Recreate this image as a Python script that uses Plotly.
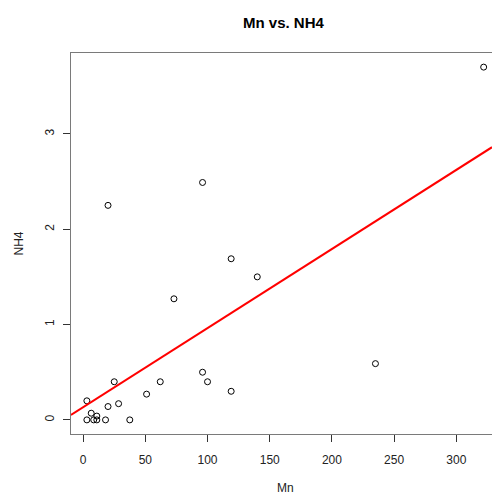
import numpy as np
import plotly.graph_objects as go

# Manganese vs ammonium observations
mn = [322, 235, 20, 96, 119, 140, 73, 96, 100, 62, 119, 51, 25,
      3, 6.5, 11, 20, 28.5, 3, 8.5, 11, 18, 37.5]
nh4 = [3.7, 0.59, 2.25, 2.49, 1.69, 1.50, 1.27, 0.50, 0.40, 0.40, 0.30, 0.27, 0.40,
       0.20, 0.07, 0.04, 0.14, 0.17, 0.0, 0.0, 0.0, 0.0, 0.0]
x_ticks = [0, 50, 100, 150, 200, 250, 300]
y_ticks = [0, 1, 2, 3]

# least-squares fit NH4 ~ Mn
slope, intercept = np.polyfit(mn, nh4, 1)

x_lo, x_hi = -9.76, 328.7
y_lo, y_hi = -0.148, 3.848
fit_x = [x_lo, x_hi]
fit_y = [intercept + slope * v for v in fit_x]

font_family = "Liberation Sans, Arial, sans-serif"

fig = go.Figure()
fig.add_trace(go.Scatter(
    x=mn, y=nh4, mode="markers",
    marker=dict(symbol="circle-open", size=6, color="#000000",
                line=dict(width=1, color="#000000")),
    showlegend=False, hoverinfo="x+y",
))
fig.add_trace(go.Scatter(
    x=fit_x, y=fit_y, mode="lines",
    line=dict(color="#ff0000", width=2),
    showlegend=False, hoverinfo="skip",
))

axis_common = dict(
    showgrid=False, zeroline=False, showline=True, linecolor="#7a7a7a",
    linewidth=1, ticks="outside", ticklen=7, tickwidth=1, tickcolor="#333333",
    tickfont=dict(family=font_family, size=12, color="#222222"),
)

# plot area size in pixels, used to place text annotations
left, right, top, bottom = 71, 0, 53, 60
plot_w = 492 - left - right
plot_h = 494 - top - bottom

fig.update_layout(
    width=492, height=494,
    margin=dict(l=left, r=right, t=top, b=bottom),
    paper_bgcolor="white", plot_bgcolor="white",
    font=dict(family=font_family, color="#222222"),
    xaxis=dict(range=[x_lo, x_hi], tickvals=x_ticks, mirror=True,
               ticklabelstandoff=8, **axis_common),
    yaxis=dict(range=[y_lo, y_hi], tickvals=y_ticks, tickangle=-90,
               ticklabelstandoff=4, **axis_common),
    annotations=[
        dict(text="<b>Mn vs. NH4</b>", x=(284 - left) / plot_w,
             y=(494 - bottom - 22) / plot_h, xref="paper", yref="paper",
             showarrow=False, font=dict(size=15, color="#000000", family=font_family),
             xanchor="center", yanchor="middle"),
        dict(text="Mn", x=(285 - left) / plot_w, y=-(488 - (494 - bottom)) / plot_h,
             xref="paper", yref="paper",
             showarrow=False, font=dict(size=12, color="#222222", family=font_family),
             xanchor="center", yanchor="middle"),
        dict(text="NH4", x=-(left - 18) / plot_w, y=0.5, xref="paper", yref="paper",
             textangle=-90,
             showarrow=False, font=dict(size=12, color="#222222", family=font_family),
             xanchor="center", yanchor="middle"),
    ],
)

fig.write_html("out.html")
